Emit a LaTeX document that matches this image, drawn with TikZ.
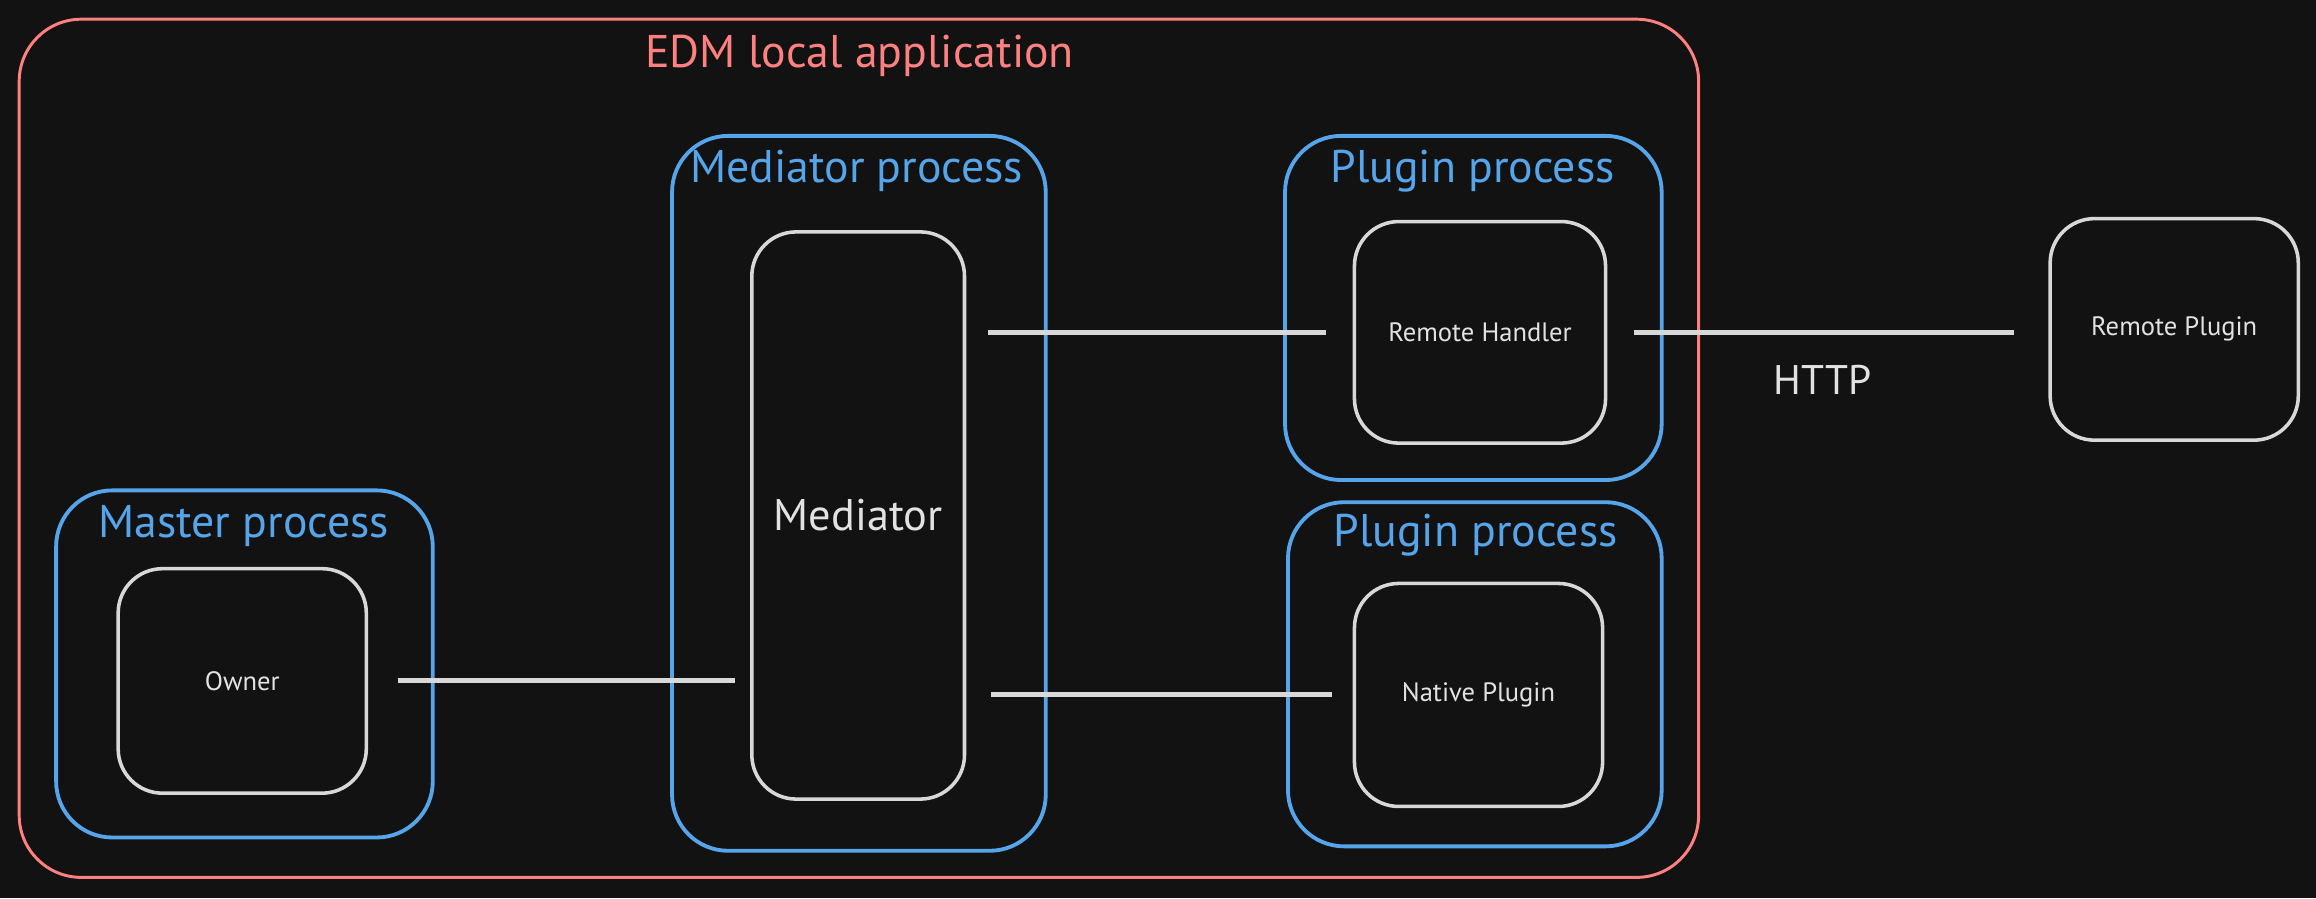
\documentclass[tikz,border=0pt]{standalone}
\usepackage{fontspec}
\setmainfont{PT Sans}
\definecolor{bg}{HTML}{121212}
\definecolor{procblue}{HTML}{56A4EA}
\definecolor{appred}{HTML}{FF8080}
\definecolor{boxgray}{HTML}{D8D8D8}
\definecolor{textgray}{HTML}{E2E2E2}

\begin{document}
\begin{tikzpicture}[x=1pt, y=-1pt,
  appbox/.style={draw=appred, line width=2pt, rounded corners=42pt, inner sep=0pt},
  procbox/.style={draw=procblue, line width=2.6pt, rounded corners=38pt, inner sep=0pt},
  compbox/.style={draw=boxgray, line width=2.4pt, rounded corners=30pt, inner sep=0pt,
    text=textgray, font=\fontsize{18}{21}\selectfont},
  title/.style={inner sep=0pt, font=\fontsize{31}{35}\selectfont},
  link/.style={draw=boxgray, line width=3.4pt}]
\fill[bg] (0,0) rectangle (1568,608);
\node[appbox, minimum width=1137pt, minimum height=581pt] (app) at (581.5,303.5) {};
\node[title, text=appred] (appT) at (582,38) {EDM local application};
\node[procbox, minimum width=253pt, minimum height=484pt] (medP) at (581.5,334) {};
\node[title, text=procblue] (medPT) at (580,116) {Mediator process};
\node[compbox, minimum width=144pt, minimum height=384pt, font=\fontsize{30}{34}\selectfont] (med) at (581,349) {Mediator};
\node[procbox, minimum width=255pt, minimum height=235pt] (masP) at (165.5,449.5) {};
\node[title, text=procblue] (masPT) at (165,356) {Master process};
\node[compbox, minimum width=168pt, minimum height=152pt] (owner) at (164,461) {Owner};
\node[procbox, minimum width=255pt, minimum height=233pt] (plgA) at (997.5,208.5) {};
\node[title, text=procblue] (plgAT) at (997,116) {Plugin process};
\node[compbox, minimum width=170pt, minimum height=150pt] (rh) at (1002,225) {Remote Handler};
\node[procbox, minimum width=253pt, minimum height=233pt] (plgB) at (998.5,456.5) {};
\node[title, text=procblue] (plgBT) at (999,362) {Plugin process};
\node[compbox, minimum width=168pt, minimum height=151pt] (np) at (1001,470.5) {Native Plugin};
\node[compbox, minimum width=168pt, minimum height=150pt] (rp) at (1472,223) {Remote Plugin};
\node[inner sep=0pt, text=textgray, font=\fontsize{28}{32}\selectfont] (http) at (1234,257) {HTTP};
\draw[link, shorten <=20pt, shorten >=10pt] (owner.east) -- (owner.east -| med.west);
\draw[link, shorten <=15pt, shorten >=18pt, yshift=-2pt] (rh.west -| med.east) -- (rh.west);
\draw[link, shorten <=17pt, shorten >=14pt] (np.west -| med.east) -- (np.west);
\draw[link, shorten <=18pt, shorten >=23pt, yshift=-1.5pt] (rh.east) -- (rh.east -| rp.west);
\end{tikzpicture}
\end{document}
